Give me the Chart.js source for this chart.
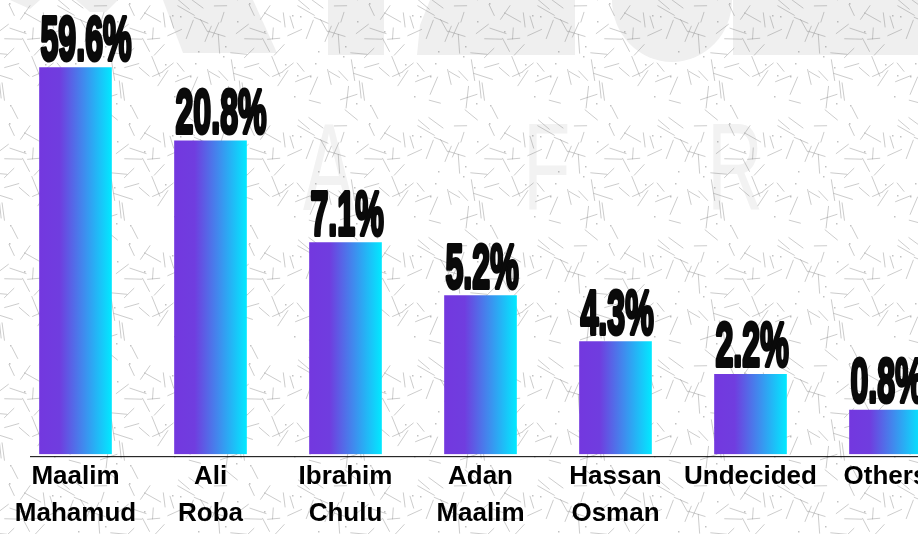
<!DOCTYPE html>
<html>
<head>
<meta charset="utf-8">
<script src="https://cdn.jsdelivr.net/npm/chart.js@4"></script>
<style>
    html, body { margin: 0; padding: 0; width: 918px; height: 534px; overflow: hidden; background: #ffffff; }
    #wrap { position: relative; width: 960px; height: 536px; }
</style>
</head>
<body>
<div id="wrap"><canvas id="pollChart"></canvas></div>
<script>

const candidates = [
    ["Maalim", "Mahamud"],
    ["Ali", "Roba"],
    ["Ibrahim", "Chulu"],
    ["Adan", "Maalim"],
    ["Hassan", "Osman"],
    "Undecided",
    "Others"
];

// printed shares, in percent
const shares = [59.6, 20.8, 7.1, 5.2, 4.3, 2.2, 0.8];

// the bars in the source are not to scale: their lengths (0-100 axis)
const barLevels = [85.1, 69.0, 46.6, 34.9, 24.8, 17.6, 9.7];




// seeded generator, only for the paper texture behind the chart
const makeSeeded = (seed) => {

    let s = seed;

    return () => {
        s = (s * 1664525 + 1013904223) % 4294967296;
        return s / 4294967296;
    };

};


const buildTexture = () => {

    const tile = document.createElement("canvas");
    tile.width = 120;
    tile.height = 120;

    const tctx = tile.getContext("2d");
    const rand = makeSeeded(7781);

    tctx.strokeStyle = "rgba(120,120,120,0.38)";
    tctx.fillStyle = "rgba(120,120,120,0.45)";
    tctx.lineWidth = 1;

    for (let i = 0; i < 48; i++) {

        const x = rand() * 120;
        const y = rand() * 120;
        const len = 11 + rand() * 12;
        const ang = rand() * Math.PI;

        for (const ox of [-120, 0, 120]) {
            for (const oy of [-120, 0, 120]) {
                tctx.beginPath();
                tctx.moveTo(x + ox, y + oy);
                tctx.lineTo(x + ox + Math.cos(ang) * len, y + oy + Math.sin(ang) * len);
                tctx.stroke();
            }
        }

    }

    for (let i = 0; i < 16; i++) {
        tctx.fillRect(Math.floor(rand() * 120), Math.floor(rand() * 120), 1.5, 1.5);
    }

    return tile;

};

const textureTile = buildTexture();


const backdropPlugin = {
    id: "backdrop",
    beforeDraw: (chart) => {

        const ctx = chart.ctx;

        ctx.save();

        ctx.fillStyle = "#ffffff";
        ctx.fillRect(0, 0, chart.width, chart.height);

        // faint logo shapes along the top
        ctx.fillStyle = "#efefef";
        const blocks = [
            [[10, 0], [40, 0], [30, 9]],
            [[76, 0], [118, 0], [106, 12], [90, 12]],
            [[163, 0], [253, 0], [277, 53], [183, 53]],
            [[328, 0], [384, 0], [384, 55], [328, 55]],
            [[430, 0], [575, 0], [575, 55], [417, 55], [420, 25]],
            [[733, 0], [960, 0], [960, 55], [733, 55]]
        ];
        for (const pts of blocks) {
            ctx.beginPath();
            ctx.moveTo(pts[0][0], pts[0][1]);
            for (const p of pts.slice(1)) ctx.lineTo(p[0], p[1]);
            ctx.closePath();
            ctx.fill();
        }
        ctx.beginPath();
        ctx.ellipse(672, 0, 60, 62, 0, 0, Math.PI);
        ctx.fill();

        // watermark letters
        ctx.fillStyle = "#f2f2f2";
        ctx.font = "125px 'Liberation Sans'";
        ctx.textBaseline = "alphabetic";
        for (const [letter, lx] of [["A", 303], ["F", 523], ["R", 707]]) {
            ctx.save();
            ctx.translate(lx, 210);
            ctx.scale(0.62, 1);
            ctx.fillText(letter, 0, 0);
            ctx.restore();
        }

        ctx.fillStyle = ctx.createPattern(textureTile, "repeat");
        ctx.fillRect(0, 0, chart.width, chart.height);

        ctx.restore();

    }
};


const shareLabelPlugin = {
    id: "shareLabels",
    afterDatasetsDraw: (chart) => {

        const ctx = chart.ctx;
        const meta = chart.getDatasetMeta(0);

        ctx.save();
        ctx.fillStyle = "#0a0a0a";
        ctx.strokeStyle = "#0a0a0a";
        ctx.lineWidth = 4;
        ctx.lineJoin = "round";
        ctx.font = "bold 63px 'Liberation Sans'";
        ctx.textBaseline = "alphabetic";
        ctx.textAlign = "left";

        meta.data.forEach((bar, i) => {
            const text = `${shares[i]}%`;
            ctx.save();
            ctx.translate(bar.x - bar.width / 2 + 1, bar.y - 8);
            ctx.scale(0.51, 1);
            ctx.strokeText(text, 0, 0);
            ctx.fillText(text, 0, 0);
            ctx.restore();
        });

        // baseline under the bars
        ctx.fillStyle = "#000000";
        ctx.fillRect(30, chart.chartArea.bottom + 2, chart.width - 30, 1);

        ctx.restore();

    }
};


const barFill = (context) => {

    const chart = context.chart;
    const xScale = chart.scales.x;

    if (!xScale || context.dataIndex === undefined) return "#7338df";

    const centre = xScale.getPixelForValue(context.dataIndex);
    if (!Number.isFinite(centre)) return "#7338df";

    const grad = chart.ctx.createLinearGradient(centre - 36, 0, centre + 36, 0);
    grad.addColorStop(0, "#7338df");
    grad.addColorStop(0.28, "#703ddf");
    grad.addColorStop(0.62, "#3f8cee");
    grad.addColorStop(1, "#02e8ff");

    return grad;

};


const drawPollChart = () => {

    const pollChart = document.getElementById("pollChart");

    new Chart(
        pollChart, {
            type: "bar",
            data: {
                labels: candidates,
                datasets: [
                    {
                        label: "Share",
                        data: barLevels,
                        backgroundColor: barFill,
                        borderWidth: 0,
                        barThickness: 72
                    }
                ]
            },
            options: {
                responsive: true,
                maintainAspectRatio: false,
                animation: false,
                events: [],
                layout: {
                    padding: { left: 8, right: 7, top: 0, bottom: 0 }
                },
                plugins: {
                    legend: { display: false },
                    tooltip: { enabled: false }
                },
                scales: {
                    x: {
                        grid: { display: false, drawTicks: false, tickLength: 0 },
                        border: { display: false },
                        ticks: {
                            color: "#000000",
                            padding: 4,
                            maxRotation: 0,
                            autoSkip: false,
                            font: { family: "'Liberation Sans', Arial, sans-serif", weight: "bold", size: 26, lineHeight: 1.42 }
                        }
                    },
                    y: {
                        display: false,
                        min: 0,
                        max: 100
                    }
                }
            },
            plugins: [backdropPlugin, shareLabelPlugin]
        }
    );

};


drawPollChart();

</script>
</body>
</html>
